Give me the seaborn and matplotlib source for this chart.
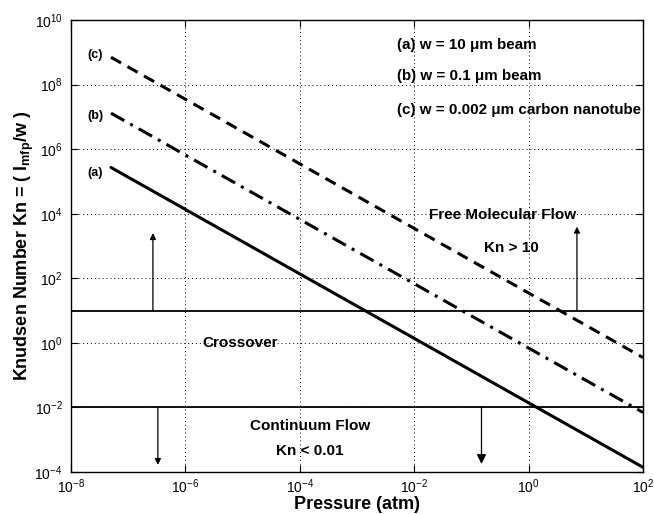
import matplotlib
matplotlib.use("Agg")
import matplotlib.pyplot as plt
import seaborn as sns
import numpy as np
import pandas as pd

# Data (each curve is a straight line on log-log axes)
pressure_a = [5e-8, 1e2]
kn_a = [2.7e5, 1.4e-4]
pressure_b = [5e-8, 1e2]
kn_b = [1.3e7, 7e-3]
pressure_c = [5e-8, 1e2]
kn_c = [7e8, 3.5e-1]
kn_limits = [10, 0.01]
xticks = [1e-8, 1e-6, 1e-4, 1e-2, 1e0, 1e2]
yticks = [1e-4, 1e-2, 1e0, 1e2, 1e4, 1e6, 1e8, 1e10]
legend_lines = ["(a) w = 10 \u03bcm beam", "(b) w = 0.1 \u03bcm beam",
                "(c) w = 0.002 \u03bcm carbon nanotube"]

sns.set_style("ticks")
plt.rcParams['font.family'] = ['Liberation Sans', 'DejaVu Sans']
plt.rcParams['mathtext.fontset'] = 'custom'
plt.rcParams['mathtext.rm'] = 'Liberation Sans'
plt.rcParams['mathtext.it'] = 'Liberation Sans:italic'
plt.rcParams['mathtext.bf'] = 'Liberation Sans:bold'
for key in ['text.color', 'axes.labelcolor', 'xtick.color', 'ytick.color', 'axes.edgecolor']:
    plt.rcParams[key] = 'black'

fig = plt.figure(figsize=(6.54, 5.14), dpi=100)
ax = fig.add_axes([0.1086, 0.0817, 0.8746, 0.8794])

df_a = pd.DataFrame({"P": pressure_a, "Kn": kn_a})
df_b = pd.DataFrame({"P": pressure_b, "Kn": kn_b})
df_c = pd.DataFrame({"P": pressure_c, "Kn": kn_c})

sns.lineplot(data=df_a, x="P", y="Kn", ax=ax, color="black", lw=2.2, linestyle="-")
sns.lineplot(data=df_b, x="P", y="Kn", ax=ax, color="black", lw=2.2).lines[-1].set_dashes([5, 2.2, 1, 2.2])
sns.lineplot(data=df_c, x="P", y="Kn", ax=ax, color="black", lw=2.2).lines[-1].set_dashes([3.8, 2.4])

for k in kn_limits:
    ax.axhline(k, color="black", lw=1.3)

ax.set_xscale("log")
ax.set_yscale("log")
ax.set_xlim(1e-8, 1e2)
ax.set_ylim(1e-4, 1e10)
ax.set_xticks(xticks)
ax.set_yticks(yticks)
ax.set_xticklabels([r"$10^{%d}$" % int(np.log10(t)) for t in xticks])
ax.set_yticklabels([r"$10^{%d}$" % int(np.log10(t)) for t in yticks])
ax.minorticks_off()
ax.tick_params(direction="in", top=True, right=True, length=5, width=0.8, labelsize=10,
               colors="black")
ax.tick_params(axis="x", pad=4)
ax.tick_params(axis="y", pad=6)
ax.grid(True, which="major", linestyle=(0, (1, 3)), color="black", lw=0.7)
for s in ax.spines.values():
    s.set_linewidth(1.0)
    s.set_color("black")

ax.set_xlabel("Pressure (atm)", fontsize=13, fontweight="bold", color="black")
ax.xaxis.set_label_coords(0.5, -0.054)
ax.set_ylabel(r"Knudsen Number Kn = ( l$_{\mathbf{mfp}}$/w )", fontsize=13, fontweight="bold",
              labelpad=-1, color="black")

# curve labels
ax.text(10**-7.58, 10**8.92, "(c)", fontsize=9, fontweight="bold", ha="center", va="center")
ax.text(10**-7.58, 10**7.03, "(b)", fontsize=9, fontweight="bold", ha="center", va="center")
ax.text(10**-7.58, 10**5.26, "(a)", fontsize=9, fontweight="bold", ha="center", va="center")

for txt, ly in zip(legend_lines, [9.23, 8.27, 7.21]):
    ax.text(10**-2.3, 10**ly, txt, fontsize=10.9, fontweight="bold", ha="left", va="center")

ax.text(10**-0.45, 10**3.96, "Free Molecular Flow", fontsize=11, fontweight="bold", ha="center", va="center")
ax.text(10**-0.3, 10**2.94, "Kn > 10", fontsize=11, fontweight="bold", ha="center", va="center")
ax.text(10**-5.05, 10**0.0, "Crossover", fontsize=11, fontweight="bold", ha="center", va="center")
ax.text(10**-3.82, 10**-2.57, "Continuum Flow", fontsize=11, fontweight="bold", ha="center", va="center")
ax.text(10**-3.82, 10**-3.34, "Kn < 0.01", fontsize=11, fontweight="bold", ha="center", va="center")

# arrows
def arrow(x, y0, y1, scale):
    ax.annotate("", xy=(x, y1), xytext=(x, y0),
                arrowprops=dict(arrowstyle="-|>", color="black", lw=0.9,
                                mutation_scale=scale, shrinkA=0, shrinkB=0))

arrow(2.7e-7, 10, 10**3.4, 9)
arrow(7.0, 10, 10**3.6, 9)
arrow(3.3e-7, 0.01, 10**-3.78, 9)
arrow(0.15, 0.01, 10**-3.75, 14)

fig.savefig("out.png", dpi=100)
